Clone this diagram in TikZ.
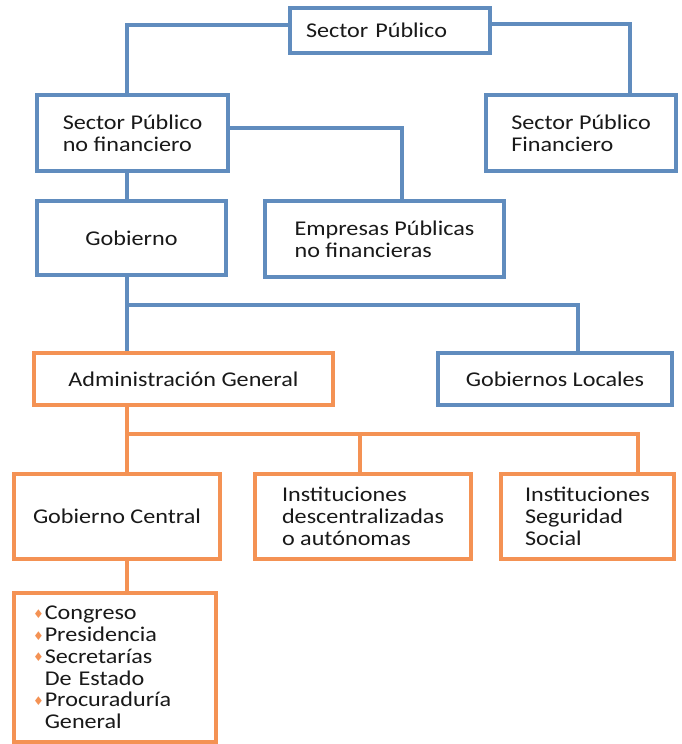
\documentclass[tikz,border=0pt]{standalone}
\usepackage{fontspec}
\setmainfont{Carlito}[FakeStretch=1.15]
\newfontfamily\symf{DejaVu Sans}
\definecolor{blueC}{RGB}{96,140,190}
\definecolor{orangeC}{RGB}{244,146,84}
\definecolor{txtC}{RGB}{25,25,25}
\newcommand{\bul}{\raisebox{1.5pt}{\symf\color{orangeC}\fontsize{12}{12}\selectfont ♦}\hspace{1pt}}
\newcommand{\bulsp}{\hphantom{\bul}}
\begin{document}
\begin{tikzpicture}[x=1pt,y=-1pt,
  every node/.style={font=\fontsize{21}{21.7}\selectfont, text=txtC},
  bbox/.style={draw=blueC, line width=4pt, fill=white, inner sep=0pt},
  obox/.style={draw=orangeC, line width=4pt, fill=white, inner sep=0pt},
  bline/.style={draw=blueC, line width=4pt},
  oline/.style={draw=orangeC, line width=4pt}]
\fill[white] (0,0) rectangle (682,744);
\useasboundingbox (0,0) rectangle (682,744);

% blue level
\node[bbox, minimum width=200pt, minimum height=45pt, align=left, text width=168pt] (sp) at (390,30.5) {Sector~Público};
\node[bbox, minimum width=191pt, minimum height=76pt, align=left] (spnf) at (132.5,133) {Sector~Público\\no~financiero};
\node[bbox, minimum width=190pt, minimum height=76pt, align=left] (spf) at (581,133) {Sector~Público\\Financiero};
\node[bbox, minimum width=189pt, minimum height=74pt, align=center] (gob) at (131.5,238) {Gobierno};
\node[bbox, minimum width=239pt, minimum height=76pt, align=left] (emp) at (384.5,239) {Empresas~Públicas\\no~financieras};
\node[obox, minimum width=299pt, minimum height=52pt, align=center] (ag) at (183.5,379) {Administración~General};
\node[bbox, minimum width=234pt, minimum height=52pt, align=center] (gl) at (555,379) {Gobiernos~Locales};

% orange level
\node[obox, minimum width=206pt, minimum height=85pt, align=center] (gc) at (117,516.5) {Gobierno~Central};
\node[obox, minimum width=216pt, minimum height=85pt, align=left] (ins) at (363,516.5) {Instituciones\\descentralizadas\\o~autónomas};
\node[obox, minimum width=173pt, minimum height=85pt, align=left] (iss) at (587.5,516.5) {Instituciones\\Seguridad\\Social};
\node[obox, minimum width=202pt, minimum height=149pt, align=left, text width=164pt] (lst) at (115,667.5)
  {\bul Congreso\\\bul Presidencia\\\bul Secretarías\\\bulsp De~Estado\\\bul Procuraduría\\\bulsp General};

% connectors
\draw[bline] ([yshift=6pt]sp.west) -| ([xshift=-6pt]spnf.north);
\draw[bline] ([yshift=7pt]sp.east) -| ([xshift=49pt]spf.north);
\draw[bline] ([yshift=5pt]spnf.east) -| ([xshift=17.5pt]emp.north);
\draw[bline] ([xshift=-6pt]spnf.south) -- ([xshift=-5pt]gob.north);
\draw[bline] ([xshift=-5pt]gob.south) -- ([xshift=-57pt]ag.north);
\coordinate (j1) at (126.5,305);
\draw[bline] (j1) -| ([xshift=23pt]gl.north);
\coordinate (j2) at (126.5,434);
\draw[oline] ([xshift=-57pt]ag.south) -- ([xshift=9.5pt]gc.north);
\draw[oline] (j2) -| ([xshift=50.5pt]iss.north);
\draw[oline] ([xshift=-3pt]ins.north |- j2) -- ([xshift=-3pt]ins.north);
\draw[oline] ([xshift=9.5pt]gc.south) -- ([xshift=11.5pt]lst.north);
\end{tikzpicture}
\end{document}
